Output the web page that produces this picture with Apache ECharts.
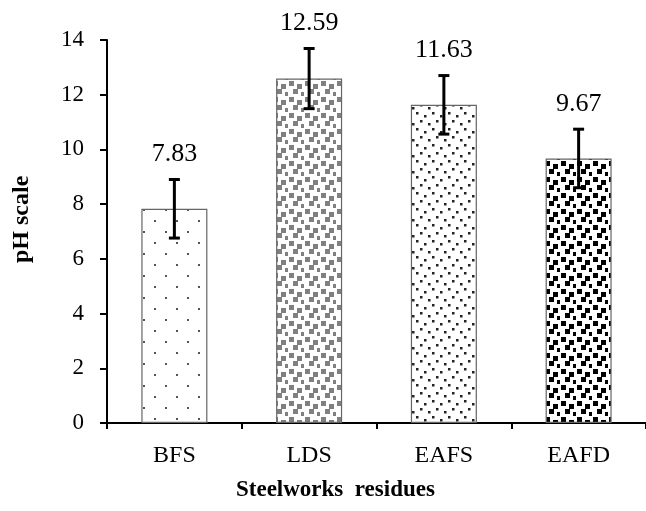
<!DOCTYPE html>
<html><head><meta charset="utf-8">
<script src="https://cdn.jsdelivr.net/npm/echarts@6/dist/echarts.min.js"></script>
<style>html,body{margin:0;padding:0;background:#fff}#c{width:646px;height:511px}</style>
</head><body><div id="c"></div>
<script>
const categories = ['BFS', 'LDS', 'EAFS', 'EAFD'];
const phValues = [7.83, 12.59, 11.63, 9.67];
const phErrors = [1.07, 1.1, 1.07, 1.07];
const yTicks = {min: 0, max: 14, interval: 2};

function makeTile(size, fill, dots, dotSize) {
  const c = document.createElement('canvas');
  c.width = size; c.height = size;
  const g = c.getContext('2d');
  g.fillStyle = '#fff'; g.fillRect(0, 0, size, size);
  g.fillStyle = fill;
  dots.forEach(d => g.fillRect(d[0], d[1], dotSize, dotSize));
  return c;
}
const patterns = [
  makeTile(22, '#555', [[0, 0], [11, 11]], 2),
  makeTile(16, '#808080', [[1, 1], [9, 4], [5, 9], [13, 12]], 5),
  makeTile(16, '#222', [[0, 0], [8, 3], [4, 8], [12, 11]], 2.5),
  makeTile(16, '#000', [[1, 1], [9, 4], [5, 9], [13, 12]], 5)
];

const chart = echarts.init(document.getElementById('c'), null, {renderer: 'canvas'});
const font = 'Liberation Serif, Times New Roman, serif';
chart.setOption({
  animation: false,
  backgroundColor: '#fff',
  grid: {left: 107, top: 40, width: 550, height: 383},
  xAxis: {
    type: 'category', data: categories,
    axisLine: {lineStyle: {color: '#000', width: 2}},
    axisTick: {show: true, length: 6, lineStyle: {color: '#000', width: 2}},
    axisLabel: {color: '#000', fontFamily: font, fontSize: 24, margin: 21}
  },
  yAxis: {
    type: 'value', min: yTicks.min, max: yTicks.max, interval: yTicks.interval,
    splitLine: {show: false},
    axisLine: {show: true, lineStyle: {color: '#000', width: 2}},
    axisTick: {show: true, length: 7, lineStyle: {color: '#000', width: 2}},
    axisLabel: {color: '#000', fontFamily: font, fontSize: 23, margin: 23}
  },
  graphic: [
    {type: 'text', left: 236, top: 479, style: {text: 'Steelworks  residues', font: 'bold 23px ' + font, fill: '#000'}},
    {type: 'text', x: 10, y: 263, rotation: Math.PI / 2, style: {text: 'pH scale', font: 'bold 24px ' + font, fill: '#000'}}
  ],
  series: [
    {
      type: 'bar', barWidth: '49%',
      data: phValues.map((v, i) => ({value: v, itemStyle: {color: {image: patterns[i], repeat: 'repeat'}}})),
      itemStyle: {borderColor: '#666', borderWidth: 1.2}
    },
    {
      type: 'custom',
      data: phValues.map((v, i) => [i, v, phErrors[i]]),
      renderItem: function (params, api) {
        const x = api.coord([api.value(0), 0])[0];
        const v = api.value(1), e = api.value(2);
        const top = api.coord([api.value(0), v + e])[1];
        const bot = api.coord([api.value(0), v - e])[1];
        const cap = 5.5;
        const ls = {stroke: '#000', lineWidth: 3};
        return {type: 'group', children: [
          {type: 'line', shape: {x1: x, y1: top, x2: x, y2: bot}, style: ls},
          {type: 'line', shape: {x1: x - cap, y1: top, x2: x + cap, y2: top}, style: ls},
          {type: 'line', shape: {x1: x - cap, y1: bot, x2: x + cap, y2: bot}, style: ls},
          {type: 'text', x: x, y: top - 25, style: {text: v.toFixed(2), font: '26px ' + font, fill: '#000', align: 'center', verticalAlign: 'middle'}}
        ]};
      },
      z: 5
    }
  ]
});
</script></body></html>
